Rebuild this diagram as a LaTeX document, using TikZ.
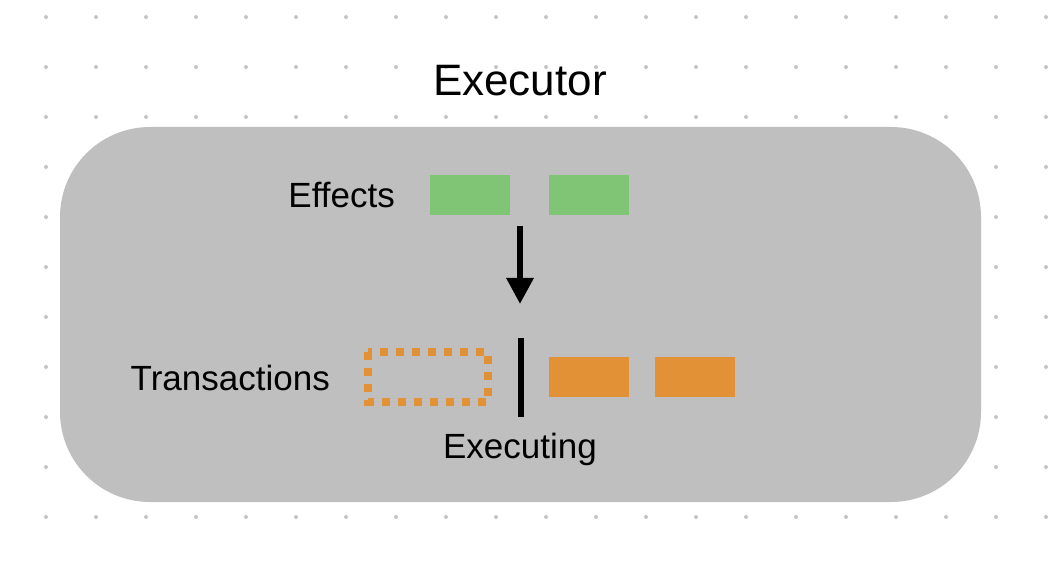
\documentclass[tikz,border=0pt]{standalone}
\usepackage{fontspec}
\setmainfont{Liberation Sans}
\usetikzlibrary{arrows.meta}
\definecolor{boxgrey}{RGB}{191,191,191}
\definecolor{dotgrey}{RGB}{196,196,196}
\definecolor{effgreen}{RGB}{128,196,117}
\definecolor{txorange}{RGB}{226,145,54}
\begin{document}
\begin{tikzpicture}[x=1pt, y=-1pt, >={Triangle[width=26pt,length=26pt]},
    lbl/.style={inner sep=0pt, font=\fontsize{35}{42}\selectfont}]
    \useasboundingbox (0,0) rectangle (1050,564);

    % dot grid
    \foreach \i in {0,...,20}
      \foreach \j in {0,...,10}
        \fill[dotgrey] (46+50*\i, 17+50*\j) circle (2);

    \coordinate (a01) at ( 60,127);
    \coordinate (a02) at (981,502);

    \coordinate (e01) at (430,175);
    \coordinate (e02) at (510,215);
    \coordinate (e03) at (549,175);
    \coordinate (e04) at (629,215);

    \coordinate (t01) at (368,352);
    \coordinate (t02) at (488,402);
    \coordinate (t03) at (549,357);
    \coordinate (t04) at (629,397);
    \coordinate (t05) at (655,357);
    \coordinate (t06) at (735,397);

    \coordinate (b01) at (521,338);
    \coordinate (b02) at (521,417);

    \coordinate (c01) at (520,226);
    \coordinate (c02) at (520,304);

    \fill[boxgrey, rounded corners=90] (a01) rectangle (a02);

    \fill[effgreen] (e01) rectangle (e02);
    \fill[effgreen] (e03) rectangle (e04);

    \draw[txorange, line width=8, dash pattern=on 8 off 8] (t01) rectangle (t02);
    \fill[txorange] (t03) rectangle (t04);
    \fill[txorange] (t05) rectangle (t06);

    \draw[line width=6] (b01) -- (b02);
    \draw[line width=6, ->] (c01) -- (c02);

    \node[inner sep=0pt, anchor=base, font=\fontsize{44}{52}\selectfont] (title) at (520,96) {Executor};
    \node[lbl, anchor=base east] (effects) at (395,208) {Effects};
    \node[lbl, anchor=base east] (trans) at (330,390) {Transactions};
    \node[lbl, anchor=base] (exec) at (520,458) {Executing};

\end{tikzpicture}
\end{document}
